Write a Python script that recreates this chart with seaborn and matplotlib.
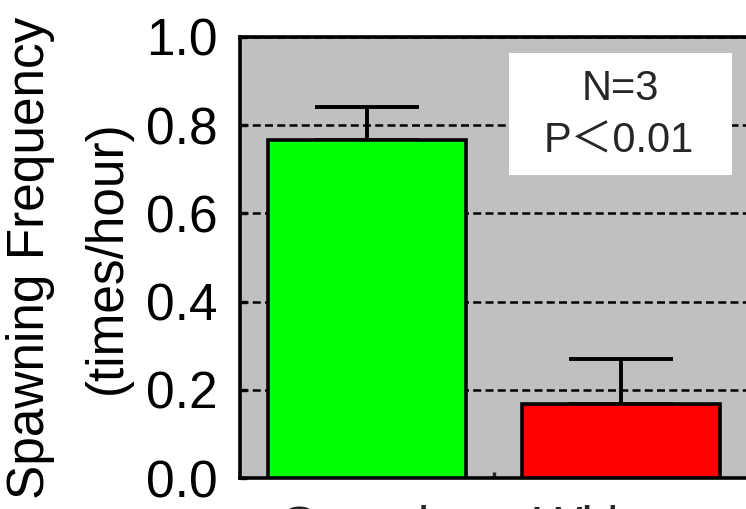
import matplotlib
matplotlib.use("Agg")
import matplotlib.pyplot as plt
import seaborn as sns
import pandas as pd
from matplotlib.patches import Rectangle

# Spawning frequency per treatment (mean and SEM, times/hour)
categories = ["Gravels", "Without\nGravels"]
means = [0.766, 0.168]
sems = [0.075, 0.102]
bar_colors = ["#00FF00", "#FF0000"]

y_ticks = [0.0, 0.2, 0.4, 0.6, 0.8, 1.0]
y_tick_labels = ["0.0", "0.2", "0.4", "0.6", "0.8", "1.0"]
stats_lines = ["N=3", "P\uff1c0.01"]

sns.set_theme(style="ticks")
plt.rcParams["font.family"] = ["Liberation Sans", "Noto Sans CJK SC", "DejaVu Sans"]

df = pd.DataFrame({"group": categories, "freq": means})

fig = plt.figure(figsize=(7.46, 5.09), dpi=100)
ax = fig.add_axes([240 / 746, 31 / 509, 508 / 746, 441 / 509])
ax.set_facecolor("#C0C0C0")

sns.barplot(
    data=df, x="group", y="freq", hue="group", palette=bar_colors,
    legend=False, width=0.78, edgecolor="black", linewidth=2.6,
    errorbar=None, saturation=1, ax=ax, zorder=3,
)

# one-sided (upper) SEM whiskers centred on each bar
centers = [p.get_x() + p.get_width() / 2 for p in ax.patches]
ax.errorbar(
    centers, means, yerr=[[0] * len(sems), sems], fmt="none",
    ecolor="black", elinewidth=2.8, capsize=37.8, capthick=2.8, zorder=2,
)

ax.set_xlim(-0.5, 1.5)
ax.set_ylim(0, 1)
ax.set_yticks(y_ticks, y_tick_labels)

# category names sit between unlabeled separator ticks
ax.set_xticks([0.5], [""])
ax.set_xticks(range(len(categories)), categories, minor=True)

ax.set_axisbelow(True)
ax.yaxis.grid(True, color="black", linestyle=(0, (3.2, 1.7)), linewidth=1.8)
ax.xaxis.grid(False)

ax.tick_params(axis="y", which="major", direction="in", length=5, width=2.4,
               labelsize=37, pad=16, left=True, colors="black")
ax.tick_params(axis="x", which="major", direction="in", length=4, width=2.4,
               bottom=True)
ax.tick_params(axis="x", which="minor", length=0, labelsize=37, pad=19,
               bottom=True)

for s in ax.spines.values():
    s.set_visible(True)
    s.set_linewidth(2.6)
    s.set_color("black")

ax.set_xlabel("")
ax.set_ylabel("Spawning Frequency\n(times/hour)", fontsize=37,
              linespacing=1.75, labelpad=10, color="black")

# statistics box
ax.add_patch(Rectangle((0.53, 0.687), 0.439, 0.277, transform=ax.transAxes,
                       facecolor="white", edgecolor="none", zorder=1))
ax.text(0.748, 0.882, stats_lines[0], transform=ax.transAxes, fontsize=30,
        ha="center", va="center", zorder=4)
ax.text(0.746, 0.762, stats_lines[1], transform=ax.transAxes, fontsize=30,
        ha="center", va="center", zorder=4)

fig.savefig("out.png", dpi=100)
